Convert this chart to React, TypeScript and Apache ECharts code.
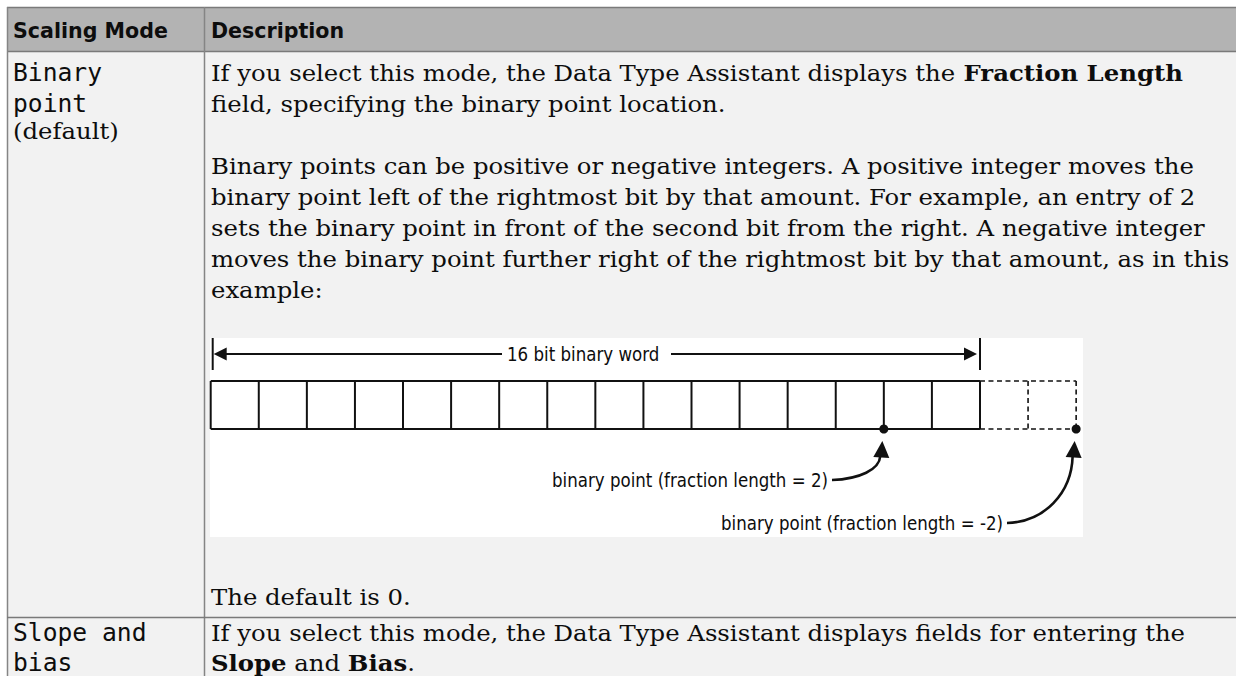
import React, { useEffect, useRef } from "react";
import * as echarts from "echarts";

// ---- content ----
const HEADERS = ["Scaling Mode", "Description"];
const MODE_BINARY = ["Binary", "point"];
const MODE_BINARY_NOTE = "(default)";
const MODE_SLOPE = ["Slope and", "bias"];
const DESC_BINARY_P1 = [
  "If you select this mode, the Data Type Assistant displays the {b|Fraction Length}",
  "field, specifying the binary point location.",
];
const DESC_BINARY_P2 = [
  "Binary points can be positive or negative integers. A positive integer moves the",
  "binary point left of the rightmost bit by that amount. For example, an entry of 2",
  "sets the binary point in front of the second bit from the right. A negative integer",
  "moves the binary point further right of the rightmost bit by that amount, as in this",
  "example:",
];
const DESC_BINARY_P3 = "The default is 0.";
const DESC_SLOPE = [
  "If you select this mode, the Data Type Assistant displays fields for entering the",
  "{b|Slope} and {b|Bias}.",
];
const BIT_COUNT = 16;
const EXTRA_BITS = 2;
const FRACTION_LENGTHS = [2, -2];
const POINT_LABELS = [
  "binary point (fraction length = 2)",
  "binary point (fraction length = -2)",
];
const WORD_LABEL = "16 bit binary word";

// ---- styling ----
const SERIF = "'DejaVu Serif', serif";
const MONO = "'DejaVu Sans Mono', monospace";
const HEAD = "'DejaVu Sans Condensed', 'DejaVu Sans', sans-serif";
const DIAG = "'DejaVu Sans Condensed', 'DejaVu Sans', sans-serif";
const INK = "#0d0d0d";
const BORDER = "#858585";

function measure(text: string, font: string): number {
  const c = document.createElement("canvas").getContext("2d")!;
  c.font = font;
  return c.measureText(text).width;
}

function txt(
  text: string,
  x: number,
  y: number,
  family: string,
  size: number,
  weight: string,
  scaleX: number,
  align: string = "left",
  rich?: any
): any {
  return {
    type: "text",
    x,
    y,
    scaleX,
    style: {
      text,
      fontFamily: family,
      fontSize: size,
      fontWeight: weight,
      fill: INK,
      align,
      verticalAlign: "middle",
      rich,
    },
  };
}

function line(x1: number, y1: number, x2: number, y2: number, stroke: string, w: number, dash?: number[]): any {
  return {
    type: "line",
    shape: { x1, y1, x2, y2 },
    style: { stroke, lineWidth: w, lineDash: dash },
  };
}

export default function App() {
  const ref = useRef<HTMLDivElement>(null);

  useEffect(() => {
    if (!ref.current) return;
    const chart = echarts.init(ref.current, null, { renderer: "svg" });

    const serifSize = 22;
    const serifScale =
      1019 / measure(DESC_BINARY_P2[3], `normal ${serifSize}px ${SERIF}`);
    const monoSize = 24;
    const monoScale = 89 / measure(MODE_BINARY[0], `normal ${monoSize}px ${MONO}`);
    const headSize = 22;
    const headScale = 155 / measure(HEADERS[0], `bold ${headSize}px ${HEAD}`);
    const diagSize = 19;
    const diagScale = 276 / measure(POINT_LABELS[0], `normal ${diagSize}px ${DIAG}`);

    const rich = {
      b: { fontFamily: SERIF, fontSize: serifSize, fontWeight: "bold", fill: INK },
    };

    const els: any[] = [];
    // backgrounds
    els.push({ type: "rect", shape: { x: 7, y: 7, width: 1229, height: 44 }, style: { fill: "#b3b3b3" } });
    els.push({ type: "rect", shape: { x: 7, y: 51, width: 1229, height: 625 }, style: { fill: "#f2f2f2" } });
    // borders
    els.push(line(7, 7.5, 1236, 7.5, "#7a7a7a", 1.5));
    els.push(line(7, 51.5, 1236, 51.5, "#7a7a7a", 1.5));
    els.push(line(7.5, 7, 7.5, 676, BORDER, 1.5));
    els.push(line(204.5, 7, 204.5, 676, BORDER, 1.5));
    els.push(line(7, 617.5, 1236, 617.5, "#7a7a7a", 1.5));

    // header
    els.push(txt(HEADERS[0], 13, 30, HEAD, headSize, "bold", headScale));
    els.push(txt(HEADERS[1], 211, 30, HEAD, headSize, "bold", headScale));

    // left column
    els.push(txt(MODE_BINARY[0], 13, 73, MONO, monoSize, "normal", monoScale));
    els.push(txt(MODE_BINARY[1], 13, 104, MONO, monoSize, "normal", monoScale));
    els.push(txt(MODE_BINARY_NOTE, 13, 131, SERIF, serifSize, "normal", serifScale));
    els.push(txt(MODE_SLOPE[0], 13, 633, MONO, monoSize, "normal", monoScale));
    els.push(txt(MODE_SLOPE[1], 13, 663, MONO, monoSize, "normal", monoScale));

    // description
    const lh = 31;
    DESC_BINARY_P1.forEach((s, i) =>
      els.push(txt(s, 211, 73 + i * lh, SERIF, serifSize, "normal", serifScale, "left", rich))
    );
    DESC_BINARY_P2.forEach((s, i) =>
      els.push(txt(s, 211, 166 + i * lh, SERIF, serifSize, "normal", serifScale, "left", rich))
    );
    els.push(txt(DESC_BINARY_P3, 211, 597, SERIF, serifSize, "normal", serifScale));
    DESC_SLOPE.forEach((s, i) =>
      els.push(txt(s, 211, 633 + i * 30, SERIF, serifSize, "normal", serifScale, "left", rich))
    );

    // diagram
    els.push({ type: "rect", shape: { x: 210, y: 338, width: 873, height: 199 }, style: { fill: "#ffffff" } });
    const cl = 210.7;
    const cw = 48.08;
    const ct = 381;
    const cb = 429;
    const BLACK = "#111111";
    els.push(line(cl, ct, cl + BIT_COUNT * cw, ct, BLACK, 2));
    els.push(line(cl, cb, cl + BIT_COUNT * cw, cb, BLACK, 2));
    for (let k = 0; k <= BIT_COUNT; k++) {
      els.push(line(cl + k * cw, ct, cl + k * cw, cb, BLACK, 2));
    }
    const xe = cl + (BIT_COUNT + EXTRA_BITS) * cw;
    els.push(line(cl + BIT_COUNT * cw, ct, xe, ct, BLACK, 1.6, [5, 3.5]));
    els.push(line(cl + BIT_COUNT * cw, cb, xe, cb, BLACK, 1.6, [5, 3.5]));
    for (let k = BIT_COUNT + 1; k <= BIT_COUNT + EXTRA_BITS; k++) {
      els.push(line(cl + k * cw, ct, cl + k * cw, cb, BLACK, 1.6, [5, 3.5]));
    }

    // word arrow
    const ay = 354;
    const xl = cl + 2;
    const xr = cl + BIT_COUNT * cw;
    els.push(line(xl, 338, xl, 370, BLACK, 2));
    els.push(line(xr, 338, xr, 370, BLACK, 2));
    els.push({ type: "polygon", shape: { points: [[xl + 1, ay], [xl + 14, ay - 6.5], [xl + 14, ay + 6.5]] }, style: { fill: BLACK } });
    els.push({ type: "polygon", shape: { points: [[xr - 3, ay], [xr - 16, ay - 6.5], [xr - 16, ay + 6.5]] }, style: { fill: BLACK } });
    els.push(line(xl + 12, ay, 502, ay, BLACK, 2));
    els.push(line(671, ay, xr - 14, ay, BLACK, 2));
    els.push(txt(WORD_LABEL, 507, ay, DIAG, diagSize, "normal", diagScale));

    // binary points
    const labelPos = [
      { x: 828, y: 480 },
      { x: 1003, y: 523 },
    ];
    FRACTION_LENGTHS.forEach((fl, i) => {
      const px = cl + (BIT_COUNT - fl) * cw;
      els.push({ type: "circle", shape: { cx: px, cy: cb, r: 4.5 }, style: { fill: BLACK } });
      const lp = labelPos[i];
      els.push(txt(POINT_LABELS[i], lp.x, lp.y, DIAG, diagSize, "normal", diagScale, "right"));
      const sx = lp.x + 4;
      const tipX = px - 1.5;
      const tipY = 441;
      const baseY = 457;
      els.push({
        type: "bezierCurve",
        shape: {
          x1: sx,
          y1: lp.y,
          cpx1: sx + (tipX - sx) * 0.55,
          cpy1: lp.y - 1,
          cpx2: tipX - 3,
          cpy2: lp.y - (lp.y - baseY) * 0.45,
          x2: tipX - 2,
          y2: baseY - 1,
        },
        style: { stroke: BLACK, lineWidth: 2.6, fill: null },
      });
      els.push({
        type: "polygon",
        shape: { points: [[tipX, tipY], [tipX - 9, baseY], [tipX + 7, baseY + 1]] },
        style: { fill: BLACK },
      });
    });

    chart.setOption({
      animation: false,
      graphic: { elements: els },
    });
    return () => chart.dispose();
  }, []);

  return (
    <div
      ref={ref}
      style={{ position: "fixed", left: 0, top: 0, width: 1236, height: 676, background: "#ffffff" }}
    />
  );
}
